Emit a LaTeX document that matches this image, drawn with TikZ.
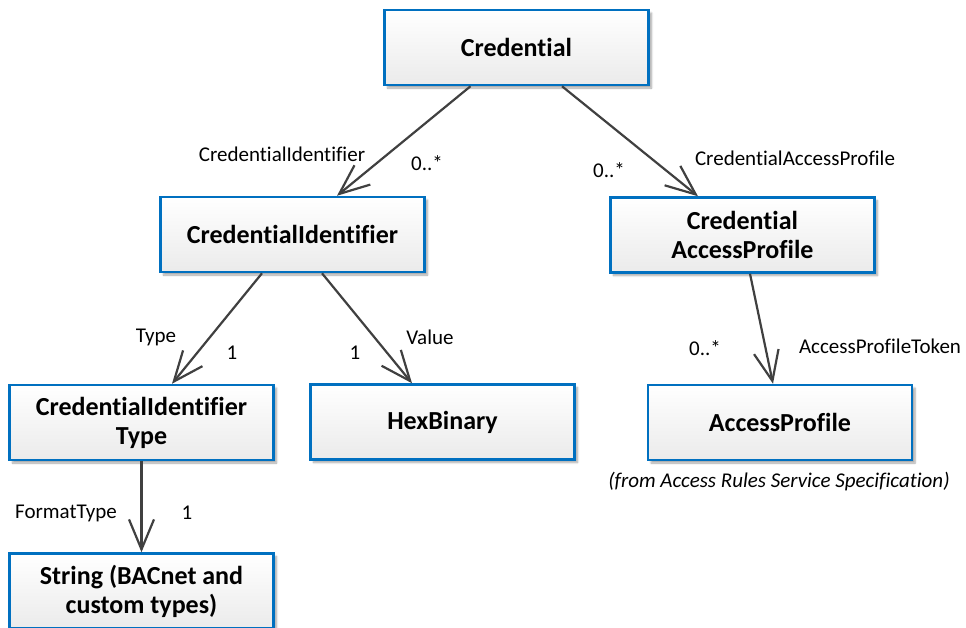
\documentclass[tikz,border=0pt]{standalone}
\usepackage{fontspec}
\setmainfont{Carlito}[Ligatures=NoCommon]
\usetikzlibrary{arrows.meta,shadows.blur}
\definecolor{boxblue}{RGB}{0,112,192}
\definecolor{linegray}{RGB}{64,64,64}

\begin{document}
\begin{tikzpicture}[x=1pt,y=-1pt]
    \useasboundingbox (0,0) rectangle (966,627);

        \begin{scope}[every node/.style={rectangle,draw=boxblue,line width=2.5pt,top color=white,bottom color=black!8,minimum width=264pt,minimum height=75pt,inner sep=0pt,align=center,font=\fontsize{26}{29}\selectfont\bfseries,blur shadow={shadow xshift=3pt,shadow yshift=-3pt,shadow blur steps=6,shadow opacity=35}}]
            \node (1) at (516.5,47.5) {Credential};
            \node (2) at (292.5,234.5) {CredentialIdentifier};
            \node (3) at (742.5,235) {Credential\\AccessProfile};
            \node (4) at (141.5,422.5) {CredentialIdentifier\\Type};
            \node (5) at (442.5,422) {HexBinary};
            \node (6) at (780,422.5) {AccessProfile};
            \node (7) at (141.5,591) {String (BACnet and\\custom types)};
        \end{scope}

        \node[font=\fontsize{21}{24}\selectfont\itshape,inner sep=0pt] (n6) at (779,482) {(from Access Rules Service Specification)};

        \begin{scope}[every node/.style={font=\fontsize{21}{24}\selectfont,inner sep=0pt}]
            \node (r12) at (282,154) {CredentialIdentifier};
            \node (m12) at (427,163) {0..*};
            \node (m13) at (609,170) {0..*};
            \node (r13) at (795,158) {CredentialAccessProfile};
            \node (r24) at (156,337) {Type};
            \node (m24) at (232,353) {1};
            \node (m25) at (355,353) {1};
            \node (r25) at (430,337) {Value};
            \node (m36) at (705,348) {0..*};
            \node (r36) at (880,346) {AccessProfileToken};
            \node (r47) at (66,513) {FormatType};
            \node (m47) at (187,513) {1};
        \end{scope}

        \begin{scope}[>={Straight Barb[length=30pt,width=25pt]}, every edge/.style={draw=linegray,line width=2.2pt,->}]
            \path [->] ([xshift=-46pt]1.south) edge ([xshift=44.5pt]2.north);
            \path [->] ([xshift=45.5pt]1.south) edge ([xshift=-44.5pt]3.north);
            \path [->] ([xshift=-30.5pt]2.south) edge ([xshift=30.5pt]4.north);
            \path [->] ([xshift=29.5pt]2.south) edge ([xshift=-30.5pt]5.north);
            \path [->] ([xshift=7.5pt]3.south) edge ([xshift=-7pt]6.north);
            \path [->] (4.south) edge (7.north);
        \end{scope}

    \end{tikzpicture}
\end{document}
